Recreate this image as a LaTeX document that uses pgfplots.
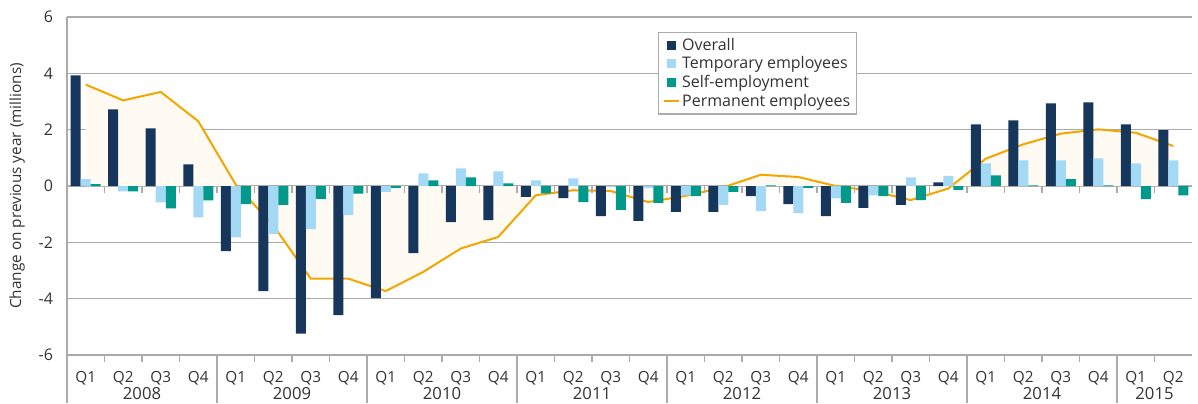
\documentclass[border=0pt]{standalone}
\usepackage{pgfplots}
\pgfplotsset{compat=1.18}
\usepackage{pgfplotstable}
\usepackage{fontspec}
\setmainfont{Open Sans}

\definecolor{navy}{HTML}{17365C}
\definecolor{ltblue}{HTML}{A3D9F5}
\definecolor{teal2}{HTML}{00998C}
\definecolor{orng}{HTML}{F5A500}
\definecolor{cream}{HTML}{FFFBF2}
\definecolor{gridgray}{HTML}{ABABAB}
\definecolor{txt}{HTML}{333333}

\pgfplotsset{
  sqlegend/.style={legend image code/.code={\fill[##1] (2.6pt,-3.4pt) rectangle (9.35pt,3.4pt);}},
  lnlegend/.style={legend image code/.code={\draw[##1] (0.4pt,0pt) -- (11.6pt,0pt);}},
}

\pgfplotstableread{
x o t s p
0 3.93 0.24 0.07 3.60
1 2.72 -0.19 -0.19 3.04
2 2.05 -0.58 -0.79 3.34
3 0.77 -1.11 -0.51 2.30
4 -2.31 -1.82 -0.64 0.05
5 -3.73 -1.70 -0.67 -1.40
6 -5.24 -1.53 -0.46 -3.29
7 -4.58 -1.03 -0.27 -3.29
8 -3.98 -0.21 -0.07 -3.73
9 -2.38 0.45 0.20 -3.05
10 -1.28 0.63 0.31 -2.22
11 -1.21 0.52 0.09 -1.81
12 -0.39 0.20 -0.26 -0.33
13 -0.43 0.27 -0.57 -0.15
14 -1.07 -0.04 -0.85 -0.18
15 -1.24 -0.07 -0.60 -0.57
16 -0.92 -0.33 -0.36 -0.35
17 -0.92 -0.67 -0.21 -0.05
18 -0.36 -0.89 0.02 0.40
19 -0.64 -0.96 -0.07 0.32
20 -1.07 -0.44 -0.60 0.00
21 -0.78 -0.33 -0.36 -0.18
22 -0.67 0.31 -0.50 -0.50
23 0.13 0.36 -0.14 -0.09
24 2.19 0.80 0.38 0.97
25 2.33 0.91 0.02 1.48
26 2.93 0.91 0.24 1.86
27 2.97 0.98 0.02 2.01
28 2.19 0.80 -0.47 1.89
29 1.98 0.91 -0.33 1.42
}\data

\begin{document}
\begin{tikzpicture}
\useasboundingbox (-50.25pt,-36pt) rectangle (848.25pt,266.25pt);
\begin{axis}[
  at={(0,0)}, anchor=south west,
  scale only axis, width=843.75pt, height=253.5pt,
  font=\fontsize{11.5}{13.8}\selectfont,
  xmin=-0.5, xmax=29.5, ymin=-6, ymax=6,
  axis x line*=bottom, axis y line*=left,
  axis line style={draw=gridgray, line width=0.9pt},
  ytick={-6,-4,-2,0,2,4,6},
  yticklabels={-6,-4,-2,0,2,4,6},
  ymajorgrids, grid style={draw=gridgray, line width=0.9pt},
  major tick length=0pt,
  yticklabel style={anchor=east, xshift=-7pt, text=txt, font=\fontsize{12}{14}\selectfont},
  xtick={0,...,29},
  xticklabels={Q1,Q2,Q3,Q4,Q1,Q2,Q3,Q4,Q1,Q2,Q3,Q4,Q1,Q2,Q3,Q4,Q1,Q2,Q3,Q4,Q1,Q2,Q3,Q4,Q1,Q2,Q3,Q4,Q1,Q2},
  xticklabel style={anchor=base, yshift=-20.5pt, text=txt},
  ylabel={Change on previous year (millions)},
  ylabel style={at={(axis description cs:-0.0444,0.5)}, anchor=center, text=txt},
  legend style={at={(rel axis cs:0.5253,0.956)}, anchor=north west,
    draw=gridgray, line width=0.9pt, fill=white, text=txt,
    row sep=-0.6pt, inner xsep=3pt, inner ysep=2.2pt,
    font=\fontsize{12}{14}\selectfont},
  legend cell align=left,
  clip=false,
]
\addplot[fill=cream, draw=none, forget plot] table[x=x,y=p]{\data} \closedcycle;
\addplot[orng, line width=1.5pt, forget plot] table[x=x,y=p]{\data};
\addplot[ybar, bar width=7.5pt, bar shift=-7.5pt, fill=navy, draw=none, sqlegend]
  table[x=x,y=o]{\data};
\addlegendentry{Overall}
\addplot[ybar, bar width=7.5pt, bar shift=0pt, fill=ltblue, draw=none, sqlegend]
  table[x=x,y=t]{\data};
\addlegendentry{Temporary employees}
\addplot[ybar, bar width=7.5pt, bar shift=7.5pt, fill=teal2, draw=none, sqlegend]
  table[x=x,y=s]{\data};
\addlegendentry{Self-employment}
\addlegendimage{orng, line width=1.5pt, lnlegend}
\addlegendentry{Permanent employees}
\pgfplotsinvokeforeach{0.5,1.5,...,28.5}{
  \draw[gridgray, line width=0.9pt] (axis cs:#1,0) -- ++(0pt,-5.25pt);
  \draw[gridgray, line width=0.9pt] (axis cs:#1,-6) -- ++(0pt,-5.25pt);
}
\draw[gridgray, line width=0.9pt] (axis cs:-0.5,-6) -- ++(0pt,-36pt);
\pgfplotsinvokeforeach{3.5,7.5,11.5,15.5,19.5,23.5,27.5}{
  \draw[gridgray, line width=0.9pt] (axis cs:#1,-6) -- ++(0pt,-36pt);
}
\begin{scope}[every node/.style={anchor=base, text=txt, yshift=-33.3pt, inner sep=0pt, font=\fontsize{12.5}{14}\selectfont}]
\node at (axis cs:1.5,-6) {2008};
\node at (axis cs:5.5,-6) {2009};
\node at (axis cs:9.5,-6) {2010};
\node at (axis cs:13.5,-6) {2011};
\node at (axis cs:17.5,-6) {2012};
\node at (axis cs:21.5,-6) {2013};
\node at (axis cs:25.5,-6) {2014};
\node at (axis cs:28.5,-6) {2015};
\end{scope}
\end{axis}
\end{tikzpicture}
\end{document}
